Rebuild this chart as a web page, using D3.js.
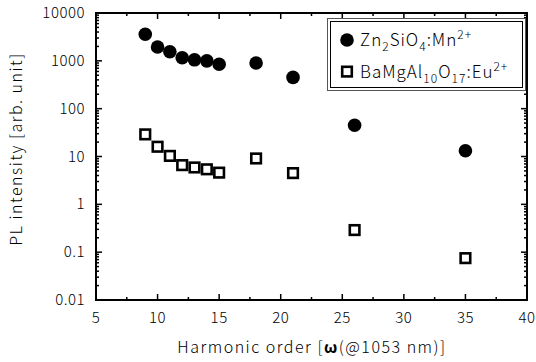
<!DOCTYPE html>
<html lang="en">
<head>
<script src="https://cdnjs.cloudflare.com/ajax/libs/d3/7.8.5/d3.min.js"></script>
<style>
body { margin: 0; background: #fff; }
text { font-family: "Noto Sans CJK JP", "DejaVu Sans", sans-serif; fill: #000; }
</style>
</head>
<body>
<script>
    // harmonic orders
    var orders = [9, 10, 11, 12, 13, 14, 15, 18, 21, 26, 35]
    // PL intensity, Zn2SiO4:Mn2+
    var znValues = [3600, 1950, 1550, 1160, 1050, 1000, 850, 900, 450, 45, 13.2]
    // PL intensity, BaMgAl10O17:Eu2+
    var baValues = [29, 16, 10.3, 6.6, 5.9, 5.4, 4.6, 9.1, 4.5, 0.29, 0.075]
    var xTicks = [5, 10, 15, 20, 25, 30, 35, 40]
    var yTicks = [0.01, 0.1, 1, 10, 100, 1000, 10000]
    var yTickLabels = ["0.01", "0.1", "1", "10", "100", "1000", "10000"]

    var w = 536, h = 362
    var pL = 96, pR = 527, pT = 13, pB = 300

    var svg = d3.select("body").append("svg")
        .attr("width", w).attr("height", h)

    var x = d3.scaleLinear().domain([5, 40]).range([pL, pR])
    var y = d3.scaleLog().domain([0.01, 10000]).range([pB, pT])

    // minor ticks
    var xMinor = d3.range(7.5, 40, 5)
    var yMinor = []
    for (var e = -2; e < 4; e++) {
        for (var k = 2; k <= 9; k++) yMinor.push(k * Math.pow(10, e))
    }

    var ticks = svg.append("g").attr("stroke", "#000").attr("stroke-width", 1.5)
    xTicks.forEach(function(t) {
        ticks.append("line").attr("x1", x(t)).attr("x2", x(t)).attr("y1", pB).attr("y2", pB - 6)
        ticks.append("line").attr("x1", x(t)).attr("x2", x(t)).attr("y1", pT).attr("y2", pT + 6)
    })
    xMinor.forEach(function(t) {
        ticks.append("line").attr("x1", x(t)).attr("x2", x(t)).attr("y1", pB).attr("y2", pB - 3)
        ticks.append("line").attr("x1", x(t)).attr("x2", x(t)).attr("y1", pT).attr("y2", pT + 3)
    })
    yTicks.forEach(function(t) {
        ticks.append("line").attr("x1", pL).attr("x2", pL + 6).attr("y1", y(t)).attr("y2", y(t))
        ticks.append("line").attr("x1", pR).attr("x2", pR - 6).attr("y1", y(t)).attr("y2", y(t))
    })
    yMinor.forEach(function(t) {
        ticks.append("line").attr("x1", pL).attr("x2", pL + 3).attr("y1", y(t)).attr("y2", y(t))
        ticks.append("line").attr("x1", pR).attr("x2", pR - 3).attr("y1", y(t)).attr("y2", y(t))
    })

    svg.append("rect")
        .attr("x", pL).attr("y", pT)
        .attr("width", pR - pL).attr("height", pB - pT)
        .attr("fill", "none").attr("stroke", "#000").attr("stroke-width", 2)

    // tick labels
    svg.selectAll("text.xl").data(xTicks).enter().append("text")
        .attr("class", "xl")
        .attr("x", function(d) { return x(d) })
        .attr("y", 323)
        .attr("text-anchor", "middle")
        .attr("font-size", "15px")
        .attr("font-weight", 300)
        .attr("letter-spacing", "0.5px")
        .text(function(d) { return d })

    svg.selectAll("text.yl").data(yTicks).enter().append("text")
        .attr("class", "yl")
        .attr("x", 85)
        .attr("y", function(d) { return y(d) + 5 })
        .attr("text-anchor", "end")
        .attr("font-size", "15px")
        .attr("font-weight", 300)
        .attr("letter-spacing", "0.5px")
        .text(function(d, i) { return yTickLabels[i] })

    // axis titles
    var xt = svg.append("text")
        .attr("x", 312).attr("y", 353)
        .attr("text-anchor", "middle")
        .attr("font-size", "16px")
        .attr("font-weight", 300)
        .attr("letter-spacing", "1.5px")
    xt.append("tspan").text("Harmonic order [")
    xt.append("tspan").attr("font-weight", 700).text("ω")
    xt.append("tspan").text("(@1053 nm)]")

    svg.append("text")
        .attr("transform", "translate(22,149) rotate(-90)")
        .attr("text-anchor", "middle")
        .attr("font-size", "16px")
        .attr("font-weight", 300)
        .attr("letter-spacing", "1.5px")
        .text("PL intensity [arb. unit]")

    // data
    svg.selectAll("circle.zn").data(orders).enter().append("circle")
        .attr("class", "zn")
        .attr("cx", function(d) { return x(d) })
        .attr("cy", function(d, i) { return y(znValues[i]) })
        .attr("r", 6.8)
        .attr("fill", "#000")

    svg.selectAll("rect.ba").data(orders).enter().append("rect")
        .attr("class", "ba")
        .attr("x", function(d) { return x(d) - 4.8 })
        .attr("y", function(d, i) { return y(baValues[i]) - 4.8 })
        .attr("width", 9.6).attr("height", 9.6)
        .attr("fill", "#fff").attr("stroke", "#000").attr("stroke-width", 2.6)

    // legend
    var lg = svg.append("g")
    lg.append("rect").attr("x", 327.5).attr("y", 18.5).attr("width", 198).attr("height", 72)
        .attr("fill", "#fff").attr("stroke", "#555").attr("stroke-width", 1)
    lg.append("rect").attr("x", 330.5).attr("y", 21.5).attr("width", 192).attr("height", 66)
        .attr("fill", "none").attr("stroke", "#000").attr("stroke-width", 1)
    lg.append("circle").attr("cx", 347).attr("cy", 40).attr("r", 6.8).attr("fill", "#000")
    lg.append("rect").attr("x", 342.2).attr("y", 66.8).attr("width", 9.6).attr("height", 9.6)
        .attr("fill", "#fff").attr("stroke", "#000").attr("stroke-width", 2.6)

    var t1 = lg.append("text").attr("x", 360).attr("y", 46).attr("font-size", "17px")
        .attr("font-weight", 300).attr("letter-spacing", "1px")
    t1.append("tspan").text("Zn")
    t1.append("tspan").attr("dy", 5).attr("font-size", "12px").text("2")
    t1.append("tspan").attr("dy", -5).text("SiO")
    t1.append("tspan").attr("dy", 5).attr("font-size", "12px").text("4")
    t1.append("tspan").attr("dy", -5).text(":Mn")
    t1.append("tspan").attr("dy", -7).attr("font-size", "12px").text("2+")

    var t2 = lg.append("text").attr("x", 360).attr("y", 78).attr("font-size", "17px")
        .attr("font-weight", 300).attr("letter-spacing", "1px")
    t2.append("tspan").text("BaMgAl")
    t2.append("tspan").attr("dy", 5).attr("font-size", "12px").text("10")
    t2.append("tspan").attr("dy", -5).text("O")
    t2.append("tspan").attr("dy", 5).attr("font-size", "12px").text("17")
    t2.append("tspan").attr("dy", -5).text(":Eu")
    t2.append("tspan").attr("dy", -7).attr("font-size", "12px").text("2+")
</script>
</body>
</html>
